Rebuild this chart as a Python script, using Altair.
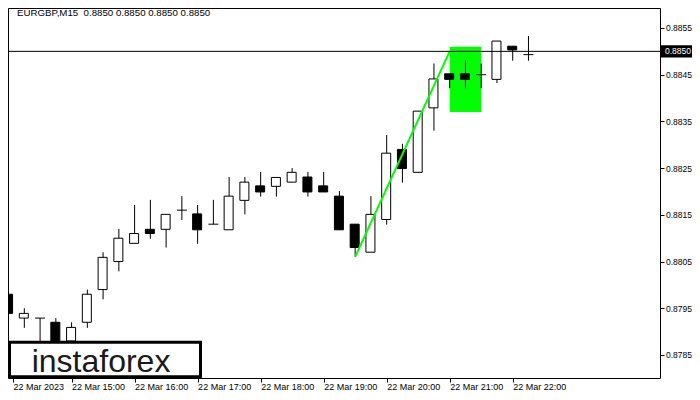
import altair as alt
import pandas as pd

# ---- data (EURGBP M15, 22 Mar 2023 14:00 .. 22:15) ----
candle_index = list(range(34))
opens  = [0.87980, 0.87929, 0.87929, 0.87920, 0.87880, 0.87920, 0.87990, 0.88050, 0.88089, 0.88119,
          0.88119, 0.88160, 0.88152, 0.88130, 0.88118, 0.88181, 0.88212, 0.88211, 0.88220, 0.88231,
          0.88212, 0.88190, 0.88130, 0.88070, 0.88140, 0.88290, 0.88241, 0.88379, 0.88452, 0.88452,
          0.88450, 0.88440, 0.88511, 0.88493]
highs  = [0.87980, 0.87950, 0.87929, 0.87929, 0.87920, 0.87990, 0.88070, 0.88120, 0.88171, 0.88182,
          0.88151, 0.88190, 0.88171, 0.88182, 0.88231, 0.88231, 0.88242, 0.88230, 0.88250, 0.88242,
          0.88242, 0.88201, 0.88130, 0.88190, 0.88321, 0.88302, 0.88372, 0.88474, 0.88452, 0.88481,
          0.88474, 0.88522, 0.88511, 0.88533]
lows   = [0.87939, 0.87908, 0.87870, 0.87860, 0.87870, 0.87908, 0.87969, 0.88029, 0.88089, 0.88099,
          0.88080, 0.88139, 0.88088, 0.88130, 0.88118, 0.88151, 0.88189, 0.88189, 0.88220, 0.88189,
          0.88199, 0.88118, 0.88060, 0.88070, 0.88129, 0.88219, 0.88241, 0.88330, 0.88421, 0.88421,
          0.88421, 0.88432, 0.88480, 0.88480]
closes = [0.87939, 0.87939, 0.87929, 0.87870, 0.87909, 0.87980, 0.88059, 0.88100, 0.88110, 0.88110,
          0.88151, 0.88160, 0.88118, 0.88130, 0.88190, 0.88220, 0.88199, 0.88230, 0.88241, 0.88199,
          0.88199, 0.88118, 0.88080, 0.88151, 0.88282, 0.88249, 0.88372, 0.88441, 0.88440, 0.88440,
          0.88450, 0.88522, 0.88503, 0.88493]

x_tick_values = [0.28125, 4, 8, 12, 16, 20, 24, 28, 32]
x_tick_labels = ["22 Mar 2023", "22 Mar 15:00", "22 Mar 16:00", "22 Mar 17:00", "22 Mar 18:00",
                 "22 Mar 19:00", "22 Mar 20:00", "22 Mar 21:00", "22 Mar 22:00"]
y_tick_values = [0.8785, 0.8795, 0.8805, 0.8815, 0.8825, 0.8835, 0.8845, 0.8855]

pattern_line_x = [22, 28]
pattern_line_y = [0.8806, 0.8850]
pattern_box_x = [28, 30]
pattern_box_y = [0.8837, 0.8851]
current_price = 0.8850
title_text = "EURGBP,M15\u00a0 0.8850 0.8850 0.8850 0.8850"
watermark_text = "instaforex"

FONT = "Liberation Sans"

# ---- tables ----
kinds = []
for o, c in zip(opens, closes):
    if abs(o - c) < 1e-9:
        kinds.append("doji")
    elif c > o:
        kinds.append("up")
    else:
        kinds.append("down")

candles = pd.DataFrame({"i": candle_index, "o": opens, "h": highs, "l": lows, "c": closes, "kind": kinds})
bodies = candles[candles["kind"] != "doji"]
dojis = candles[candles["kind"] == "doji"]
line_df = pd.DataFrame({"i": pattern_line_x, "p": pattern_line_y})
box_df = pd.DataFrame({"i": [pattern_box_x[0]], "i2": [pattern_box_x[1]],
                       "p": [pattern_box_y[0]], "p2": [pattern_box_y[1]]})
price_df = pd.DataFrame({"p": [current_price], "label": [f"{current_price:.4f}"]})
one = pd.DataFrame({"k": [0]})

# ---- scales / axes ----
label_expr = ("[" + ",".join(f"'{t}'" for t in x_tick_labels) + "][indexof(["
              + ",".join(str(v) for v in x_tick_values) + "], datum.value)]")
xscale = alt.Scale(domain=[0.28125, 41.03125], nice=False, zero=False)
yscale = alt.Scale(domain=[0.878007, 0.885928], nice=False, zero=False)
xaxis = alt.Axis(orient="bottom", values=x_tick_values, labelExpr=label_expr, title=None,
                 grid=False, domain=False, tickSize=4, tickColor="black", labelAlign="left",
                 labelBaseline="alphabetic", labelPadding=7.5, labelFont=FONT, labelFontSize=9,
                 labelColor="black", labelOverlap=False, labelFlush=False)
yaxis = alt.Axis(orient="right", values=y_tick_values, format=".4f", title=None, grid=False,
                 domain=False, tickSize=4, tickColor="black", labelPadding=1.5, labelFont=FONT,
                 labelFontSize=8.5, labelColor="black", labelFlush=False, labelOverlap=False)


def X(field):
    return alt.X(field, scale=xscale, axis=xaxis)


def Y(field):
    return alt.Y(field, scale=yscale, axis=yaxis)


green_box = alt.Chart(box_df).mark_rect(color="#00ff00", clip=True).encode(
    x=X("i:Q"), x2="i2:Q", y=Y("p:Q"), y2="p2:Q")

wicks = alt.Chart(candles).mark_rule(color="black", strokeWidth=1, clip=True).encode(
    x=X("i:Q"), y=Y("l:Q"), y2="h:Q")

body = alt.Chart(bodies).mark_bar(size=9, stroke="black", strokeWidth=1, xOffset=-0.5,
                                  clip=True, opacity=1).encode(
    x=X("i:Q"), y=Y("o:Q"), y2="c:Q",
    color=alt.Color("kind:N", scale=alt.Scale(domain=["up", "down"], range=["white", "black"]),
                    legend=None))

doji = alt.Chart(dojis).mark_tick(orient="horizontal", size=10, thickness=1, color="black",
                                  clip=True, opacity=1).encode(
    x=X("i:Q"), y=Y("o:Q"))

green_line = alt.Chart(line_df).mark_line(color="#00ff00", strokeWidth=2, clip=True).encode(
    x=X("i:Q"), y=Y("p:Q"))

price_rule = alt.Chart(price_df).mark_rule(color="black", strokeWidth=1).encode(
    x=alt.value(0), x2=alt.value(652), y=Y("p:Q"))

wm_box = alt.Chart(one).mark_rect(fill="white", stroke="black", strokeWidth=3).encode(
    x=alt.value(1.5), x2=alt.value(192.5), y=alt.value(334.2), y2=alt.value(368.8))

wm_text = alt.Chart(one).mark_text(text=watermark_text, font=FONT, fontSize=32, color="#1a1a1a",
                                   align="center", baseline="alphabetic").encode(
    x=alt.value(93), y=alt.value(363.7))

title = alt.Chart(one).mark_text(text=title_text, font=FONT, fontSize=9.7, color="black",
                                 align="left", baseline="middle").encode(
    x=alt.value(9), y=alt.value(4.5))

price_box = alt.Chart(price_df).transform_calculate(
    hi="datum.p + 0.000132", lo="datum.p - 0.000132"
).mark_rect(color="black").encode(
    x=alt.value(653), x2=alt.value(688), y=Y("hi:Q"), y2="lo:Q")

price_text = alt.Chart(price_df).mark_text(font=FONT, fontSize=8.5, color="white", align="center",
                                           baseline="middle").encode(
    x=alt.value(670), y=Y("p:Q"), text="label:N")

chart = alt.layer(
    green_box, wicks, body, doji, green_line, price_rule, wm_box, wm_text, title, price_box, price_text
).properties(
    width=652, height=370,
    autosize=alt.AutoSizeParams(type="none"),
    padding={"left": 0, "top": 0, "right": 32, "bottom": 14},
    background="white",
).configure_view(stroke="black", strokeWidth=1)

chart.save("out.html", embed_options={"renderer": "svg", "actions": False})
